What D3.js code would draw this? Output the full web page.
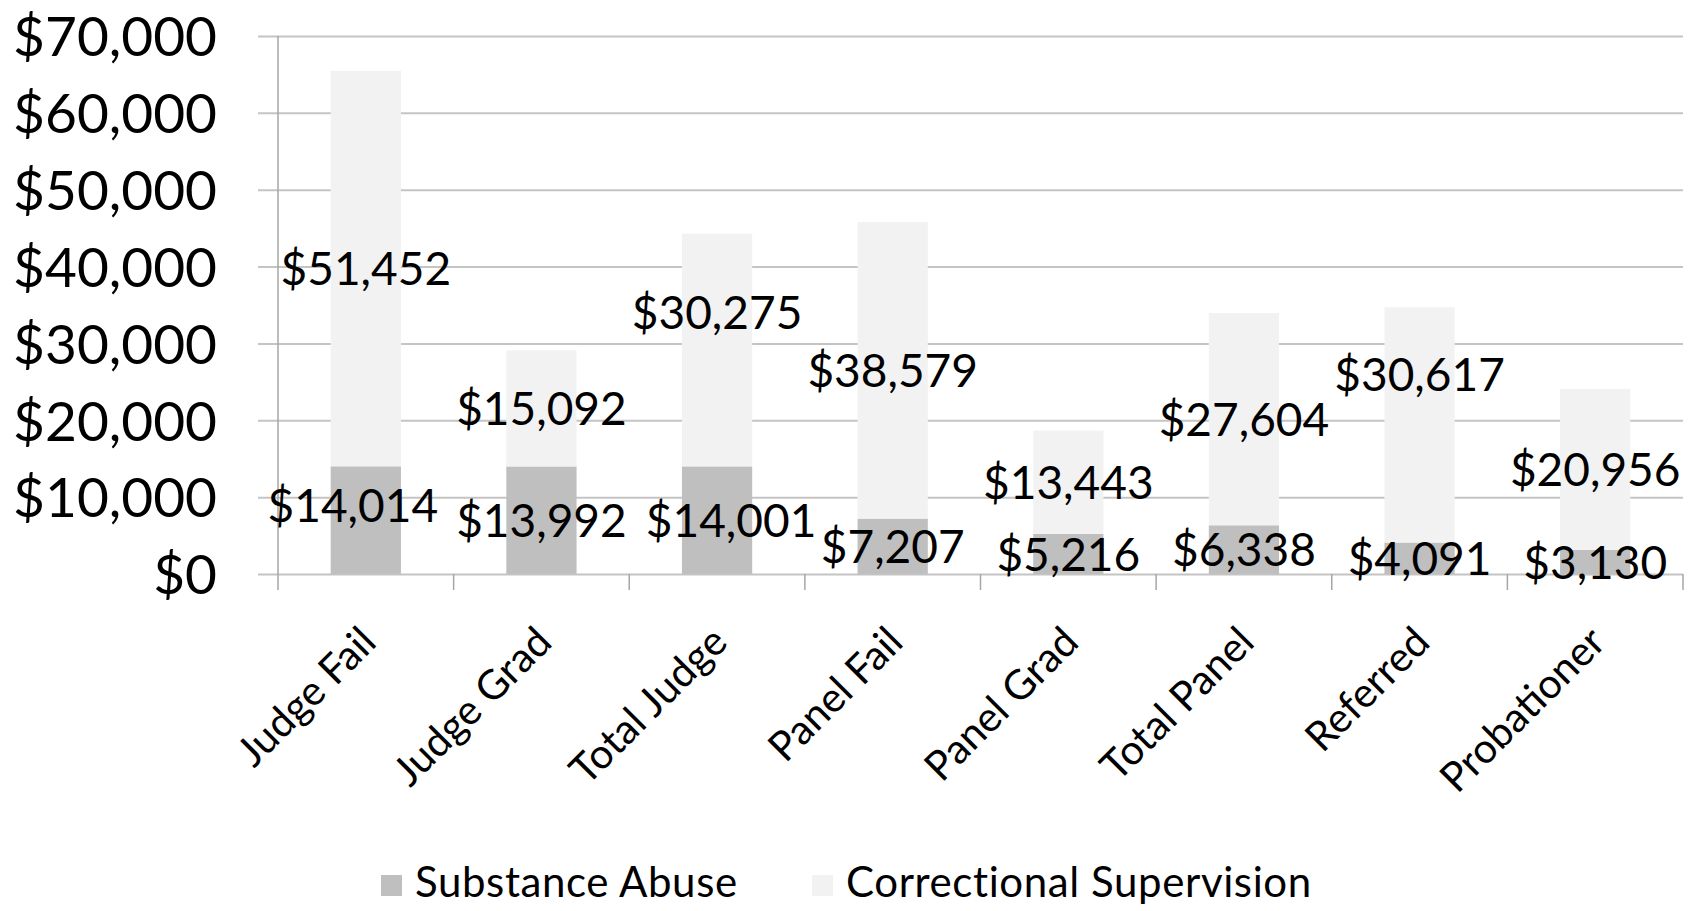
<!DOCTYPE html>
<html lang="en">
<head>
<meta charset="UTF-8">
<title>Substance Abuse vs Correctional Supervision cost</title>
<script src="https://d3js.org/d3.v7.min.js"></script>
<style>
  body { margin: 0; background: #fff; }
  svg { display: block; }
  text { font-family: Lato, "Open Sans", sans-serif; fill: #000; }
</style>
</head>
<body>
<script>
// chart data
const categories = ["Judge Fail", "Judge Grad", "Total Judge", "Panel Fail", "Panel Grad", "Total Panel", "Referred", "Probationer"];
const substanceAbuse = [14014, 13992, 14001, 7207, 5216, 6338, 4091, 3130];
const correctionalSupervision = [51452, 15092, 30275, 38579, 13443, 27604, 30617, 20956];
const yTicks = [0, 10000, 20000, 30000, 40000, 50000, 60000, 70000];
const seriesNames = ["Substance Abuse", "Correctional Supervision"];

// a few labels were dragged off centre in the original, [dx, dy] per category
const nudgeSubstance = [[-13, -15], [0, 0], [14, 0], [0, 0], [0, 0], [0, 0], [0, 0], [0, 0]];
const nudgeCorrectional = [[0, 0], [0, 0], [0, -38], [0, 0], [0, 0], [0, 0], [0, -50], [0, 0]];

const colors = ["#bfbfbf", "#f2f2f2"];
const width = 1702, height = 911;
const plotLeft = 278, plotRight = 1683, plotTop = 36, plotBottom = 574;

const svg = d3.select("body").append("svg")
  .attr("width", width)
  .attr("height", height);

const x = d3.scaleBand()
  .domain(categories)
  .range([plotLeft, plotRight])
  .paddingInner(0.6)
  .paddingOuter(0.3);

const y = d3.scaleLinear()
  .domain([0, 70000])
  .range([plotBottom, plotTop]);

// gridlines + y labels
const yAxis = svg.append("g")
  .attr("transform", "translate(" + plotLeft + ",0)")
  .call(d3.axisLeft(y)
    .tickValues(yTicks)
    .tickSize(20)
    .tickPadding(41)
    .tickFormat(d => "$" + d3.format(",")(d)));
yAxis.select(".domain").remove();
yAxis.selectAll(".tick line")
  .attr("x1", -20)
  .attr("x2", plotRight - plotLeft)
  .attr("stroke", "#c4c4c4")
  .attr("stroke-width", 2);
yAxis.selectAll(".tick text")
  .attr("font-size", 55)
  .attr("font-family", "Lato, sans-serif")
  .attr("dy", "0.36em");

// stacked data
const rows = categories.map((c, i) => ({
  cat: c,
  "Substance Abuse": substanceAbuse[i],
  "Correctional Supervision": correctionalSupervision[i]
}));
const stacked = d3.stack().keys(seriesNames)(rows);

svg.append("g")
  .selectAll("g")
  .data(stacked)
  .join("g")
  .attr("fill", (d, i) => colors[i])
  .selectAll("rect")
  .data(d => d)
  .join("rect")
  .attr("x", d => x(d.data.cat))
  .attr("y", d => y(d[1]))
  .attr("width", x.bandwidth())
  .attr("height", d => y(d[0]) - y(d[1]));

// vertical axis line
svg.append("line")
  .attr("x1", plotLeft).attr("x2", plotLeft)
  .attr("y1", plotTop).attr("y2", plotBottom + 16)
  .attr("stroke", "#a6a6a6")
  .attr("stroke-width", 1.5);

// x axis ticks at category boundaries
const tickXs = categories.map((c, i) => plotLeft + (i + 1) * x.step());
svg.append("g")
  .selectAll("line")
  .data(tickXs)
  .join("line")
  .attr("x1", d => d).attr("x2", d => d)
  .attr("y1", plotBottom).attr("y2", plotBottom + 16)
  .attr("stroke", "#a6a6a6")
  .attr("stroke-width", 1.5);

// data labels
const labels = svg.append("g").attr("font-size", 46);
stacked.forEach((s, si) => {
  const nudge = si === 0 ? nudgeSubstance : nudgeCorrectional;
  labels.selectAll(".lab" + si)
    .data(s)
    .join("text")
    .attr("class", "lab" + si)
    .attr("text-anchor", "middle")
    .attr("dy", "0.36em")
    .attr("x", (d, i) => x(d.data.cat) + x.bandwidth() / 2 + nudge[i][0])
    .attr("y", (d, i) => y((d[0] + d[1]) / 2) + nudge[i][1])
    .text(d => "$" + d3.format(",")(d[1] - d[0]));
});

// category labels, rotated
svg.append("g")
  .selectAll("text")
  .data(categories)
  .join("text")
  .attr("font-size", 41)
  .attr("text-anchor", "end")
  .attr("dy", "0.36em")
  .attr("transform", d => "translate(" + (x(d) + x.bandwidth() / 2 + 2) + ",634) rotate(-45)")
  .text(d => d);

// legend
const legendX = [381, 812];
const legend = svg.append("g");
seriesNames.forEach((name, i) => {
  legend.append("rect")
    .attr("x", legendX[i]).attr("y", 875)
    .attr("width", 21).attr("height", 21)
    .attr("fill", colors[i]);
  legend.append("text")
    .attr("x", legendX[i] + 34)
    .attr("y", 897)
    .attr("font-size", 42)
    .attr("letter-spacing", 0.6)
    .text(name);
});
</script>
</body>
</html>
